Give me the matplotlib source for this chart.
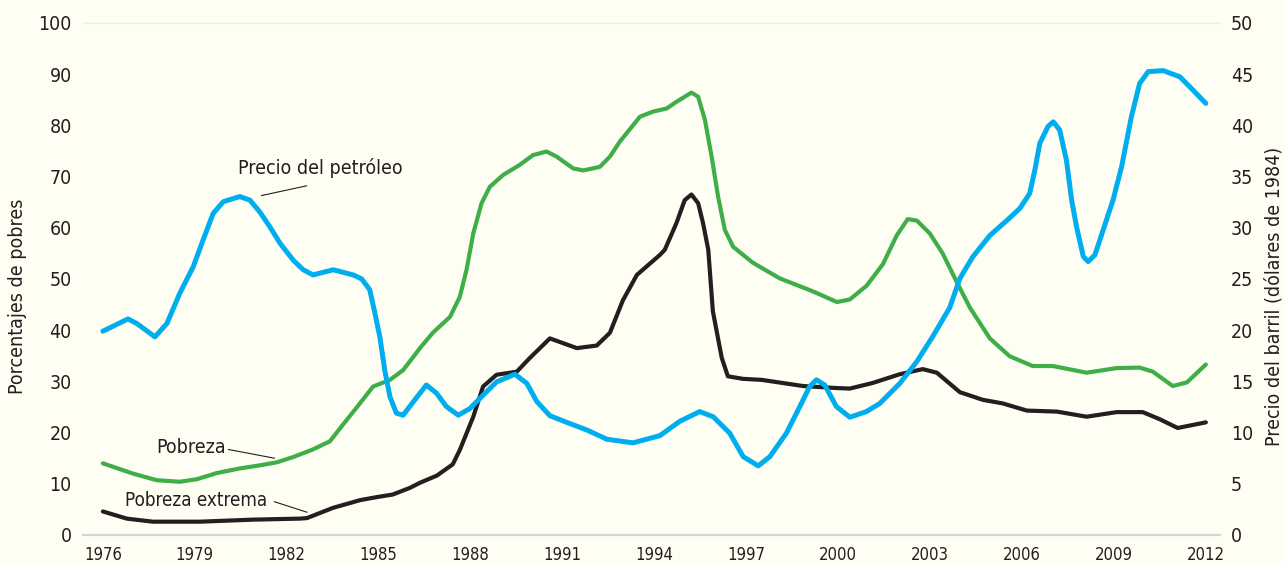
import matplotlib
matplotlib.use('Agg')
import matplotlib.pyplot as plt
from matplotlib import font_manager

# fuente condensada si existe
names = {f.name for f in font_manager.fontManager.ttflist}
if 'Liberation Sans Narrow' in names:
    plt.rcParams['font.family'] = ['Liberation Sans Narrow', 'DejaVu Sans']
else:
    plt.rcParams['font.family'] = ['DejaVu Sans']
    plt.rcParams['font.stretch'] = 'condensed'

# Precio del petróleo (dólares de 1984, eje derecho)
oil_years = [1976.0, 1976.82, 1977.11, 1977.70, 1978.09, 1978.51, 1978.95, 1979.27, 1979.60, 1979.93,
             1980.47, 1980.80, 1981.12, 1981.45, 1981.78, 1982.21, 1982.54, 1982.86, 1983.52, 1984.17,
             1984.45, 1984.71, 1984.88, 1985.04, 1985.20, 1985.37, 1985.58, 1985.80, 1986.13, 1986.56,
             1986.89, 1987.21, 1987.60, 1987.98, 1988.41, 1988.85, 1989.45, 1989.84, 1990.16, 1990.59,
             1991.14, 1991.80, 1992.45, 1993.30, 1994.18, 1994.83, 1995.48, 1995.92, 1996.46, 1996.90,
             1997.39, 1997.77, 1998.31, 1998.75, 1999.07, 1999.29, 1999.56, 1999.94, 2000.38, 2000.92,
             2001.36, 2002.01, 2002.57, 2003.09, 2003.64, 2003.97, 2004.39, 2004.95, 2005.50, 2005.93,
             2006.25, 2006.42, 2006.58, 2006.85, 2007.02, 2007.23, 2007.45, 2007.62, 2007.78, 2008.00,
             2008.16, 2008.38, 2008.65, 2008.97, 2009.25, 2009.57, 2009.84, 2010.12, 2010.61, 2011.15,
             2011.58, 2012.0]
oil_price = [19.9, 21.1, 20.65, 19.35, 20.65, 23.6, 26.2, 28.8, 31.4, 32.55,
             33.05, 32.7, 31.55, 30.1, 28.5, 26.85, 25.9, 25.4, 25.9, 25.4,
             25.0, 23.95, 21.65, 19.35, 16.1, 13.5, 11.9, 11.7, 13.0, 14.65,
             13.85, 12.55, 11.7, 12.35, 13.65, 14.95, 15.7, 14.8, 13.05, 11.65,
             11.0, 10.25, 9.35, 9.0, 9.7, 11.1, 12.05, 11.55, 9.95, 7.65,
             6.75, 7.65, 9.95, 12.55, 14.5, 15.15, 14.65, 12.55, 11.5, 12.05,
             12.85, 14.8, 16.95, 19.4, 22.2, 25.05, 27.15, 29.25, 30.7, 31.9,
             33.35, 35.65, 38.25, 39.9, 40.35, 39.55, 36.6, 32.7, 30.1, 27.2,
             26.7, 27.35, 29.8, 32.7, 35.95, 40.85, 44.1, 45.25, 45.35, 44.75,
             43.45, 42.15]

# Pobreza (% de pobres, eje izquierdo)
pov_years = [1976.0, 1976.98, 1977.76, 1978.51, 1979.07, 1979.72, 1980.47, 1981.12, 1981.68, 1982.20,
             1982.85, 1983.41, 1983.83, 1984.39, 1984.82, 1985.37, 1985.80, 1986.35, 1986.77, 1987.33,
             1987.65, 1987.87, 1988.09, 1988.36, 1988.63, 1989.06, 1989.61, 1990.04, 1990.48, 1990.81,
             1991.35, 1991.68, 1992.22, 1992.55, 1992.87, 1993.53, 1993.96, 1994.40, 1994.72, 1995.21,
             1995.43, 1995.65, 1995.87, 1996.08, 1996.30, 1996.57, 1997.21, 1998.10, 1999.17, 1999.96,
             2000.38, 2000.93, 2001.46, 2001.91, 2002.27, 2002.57, 2002.99, 2003.41, 2003.87, 2004.30,
             2004.95, 2005.60, 2006.35, 2007.01, 2008.11, 2009.09, 2009.84, 2010.27, 2010.92, 2011.38,
             2012.0]
pov = [14.0, 12.0, 10.7, 10.4, 10.9, 12.1, 13.0, 13.6, 14.2, 15.2,
       16.7, 18.3, 21.5, 25.7, 29.0, 30.3, 32.2, 36.5, 39.5, 42.6,
       46.5, 51.8, 58.9, 64.8, 68.0, 70.3, 72.3, 74.2, 74.9, 73.9,
       71.6, 71.2, 71.9, 73.9, 76.8, 81.7, 82.7, 83.3, 84.6, 86.4,
       85.6, 81.1, 73.9, 66.1, 59.6, 56.3, 53.2, 50.1, 47.6, 45.5,
       46.0, 48.7, 52.9, 58.5, 61.7, 61.4, 58.9, 55.0, 49.4, 44.4,
       38.4, 34.9, 33.0, 33.0, 31.7, 32.6, 32.7, 31.9, 29.1, 29.8,
       33.3]

# Pobreza extrema
ext_years = [1976.0, 1976.78, 1977.63, 1979.17, 1980.90, 1982.43, 1982.66, 1983.51, 1984.39, 1984.94,
             1985.46, 1986.02, 1986.35, 1986.90, 1987.42, 1987.65, 1988.09, 1988.41, 1988.85, 1989.51,
             1989.94, 1990.59, 1991.47, 1992.12, 1992.55, 1992.97, 1993.43, 1994.18, 1994.34, 1994.72,
             1994.99, 1995.21, 1995.43, 1995.59, 1995.76, 1995.91, 1996.20, 1996.40, 1996.89, 1997.50,
             1998.85, 1999.94, 2000.38, 2001.13, 2002.01, 2002.76, 2003.22, 2003.97, 2004.72, 2005.37,
             2006.16, 2007.14, 2008.11, 2009.09, 2009.94, 2010.50, 2011.08, 2012.0]
ext = [4.6, 3.2, 2.6, 2.6, 3.0, 3.2, 3.3, 5.3, 6.8, 7.4,
       7.9, 9.2, 10.2, 11.6, 13.8, 16.6, 23.1, 29.0, 31.3, 31.9,
       34.6, 38.4, 36.5, 37.0, 39.5, 45.8, 50.8, 54.7, 55.7, 60.9,
       65.4, 66.5, 64.8, 60.9, 55.7, 43.7, 34.6, 31.0, 30.5, 30.3,
       29.1, 28.7, 28.6, 29.7, 31.4, 32.4, 31.7, 27.9, 26.4, 25.7,
       24.3, 24.1, 23.1, 24.0, 24.0, 22.6, 20.9, 22.0]

xticks = list(range(1976, 2013, 3))
left_ticks = list(range(0, 101, 10))
right_ticks = list(range(0, 51, 5))

bg = '#FFFEF3'
ink = '#231F20'
fig = plt.figure(figsize=(12.84, 5.65), dpi=100, facecolor=bg)
ax = fig.add_axes([0.0646, 0.0531, 0.8855, 0.9062])
ax.set_facecolor('none')
ax2 = ax.twinx()
ax2.set_facecolor('none')

ax.axhline(0, color='#D6D6D6', lw=1.6, clip_on=False, zorder=1)
ax.axhline(100, color='#ECECEC', lw=1.0, clip_on=False, zorder=1)

kw = dict(solid_joinstyle='round', solid_capstyle='round', zorder=3)
ax.plot(pov_years, pov, color='#3FAE49', lw=3.0, **kw)
ax.plot(ext_years, ext, color=ink, lw=3.0, **kw)
ax2.plot(oil_years, oil_price, color='#00AEEF', lw=3.6, **kw)

ax.set_xlim(1975.35, 2012.46)
ax.set_ylim(0, 100)
ax2.set_ylim(0, 50)

for a in (ax, ax2):
    for s in a.spines.values():
        s.set_visible(False)

ax.set_xticks(xticks)
ax.set_xticklabels([str(y) for y in xticks], fontsize=12, color=ink)
ax.set_yticks(left_ticks)
ax.set_yticklabels([str(v) for v in left_ticks], fontsize=14, color=ink)
ax2.set_yticks(right_ticks)
ax2.set_yticklabels([str(v) for v in right_ticks], fontsize=14, color=ink)
ax.tick_params(axis='x', length=0, pad=8)
ax.tick_params(axis='y', length=0, pad=8)
ax2.tick_params(axis='y', length=0, pad=8)

fig.text(18 / 1284, 1 - 296 / 565, 'Porcentajes de pobres', rotation=90, fontsize=14,
         ha='center', va='center', color=ink)
fig.text(1274 / 1284, 1 - 296 / 565, 'Precio del barril (dólares de 1984)', rotation=90, fontsize=14,
         ha='center', va='center', color=ink)

# etiquetas de las series
ax.text(1983.1, 71.7, 'Precio del petróleo', fontsize=14, ha='center', va='center', color=ink)
ax.plot([1981.18, 1982.65], [66.3, 68.2], color=ink, lw=0.8)
ax.text(1978.87, 17.1, 'Pobreza', fontsize=14, ha='center', va='center', color=ink)
ax.plot([1980.1, 1981.6], [16.7, 15.0], color=ink, lw=0.8)
ax.text(1979.05, 6.7, 'Pobreza extrema', fontsize=13.5, ha='center', va='center', color=ink)
ax.plot([1981.6, 1982.66], [6.5, 4.45], color=ink, lw=0.8)

fig.savefig('out.png', dpi=100, facecolor=bg)
